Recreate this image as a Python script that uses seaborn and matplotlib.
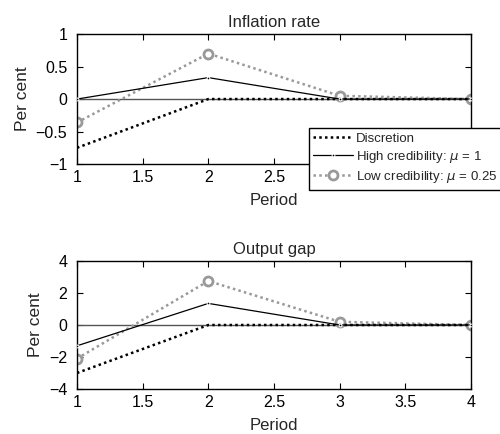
"""
Impulse responses of inflation and the output gap under discretion and
two credibility regimes, redrawn in the MATLAB look of the original.
"""

import matplotlib
matplotlib.use("Agg")
import matplotlib.pyplot as plt
import pandas as pd
import seaborn as sns

periods = [1, 2, 3, 4]

inflation_discretion = [-0.75, 0.0, 0.0, 0.0]
inflation_high = [0.0, 0.33, 0.0, 0.0]
inflation_low = [-0.36, 0.70, 0.05, 0.0]

output_discretion = [-3.0, 0.0, 0.0, 0.0]
output_high = [-1.3, 1.35, 0.0, 0.0]
output_low = [-2.1, 2.75, 0.2, 0.0]

labels = ["Discretion", r"High credibility: $\mu$ = 1", r"Low credibility: $\mu$ = 0.25"]
xtick_vals = [1, 1.5, 2, 2.5, 3, 3.5, 4]
xtick_text = ["1", "1.5", "2", "2.5", "3", "3.5", "4"]

sns.set_theme(style="ticks")
plt.rcParams["font.family"] = ["Liberation Sans", "DejaVu Sans"]
plt.rcParams["mathtext.fontset"] = "dejavusans"

fig = plt.figure(figsize=(5.0, 4.34), dpi=100)
ax_top = fig.add_axes([0.154, 0.622, 0.788, 0.2995])
ax_bot = fig.add_axes([0.154, 0.1037, 0.788, 0.2949])


def draw_panel(ax, disc, high, low, title, ylim, yticks, yticklabels, xlabels):
    df = pd.DataFrame({"Period": periods, "disc": disc, "high": high, "low": low})
    ax.axhline(0, color="#555555", lw=1.0, zorder=1)
    sns.lineplot(data=df, x="Period", y="disc", ax=ax, color="black",
                 lw=1.8, linestyle=(0, (1, 1.3)), label=labels[0], zorder=3)
    sns.lineplot(data=df, x="Period", y="high", ax=ax, color="black",
                 lw=0.9, marker="o", markersize=2, label=labels[1], zorder=4)
    sns.lineplot(data=df, x="Period", y="low", ax=ax, color="#999999",
                 lw=1.8, linestyle=(0, (1, 1.3)), marker="o", markersize=6.5,
                 markerfacecolor="white", markeredgecolor="#999999",
                 markeredgewidth=2, label=labels[2], zorder=2)
    ax.set_xlim(1, 4)
    ax.set_ylim(*ylim)
    ax.set_xticks(xtick_vals)
    ax.set_xticklabels(xlabels)
    ax.set_yticks(yticks)
    ax.set_yticklabels(yticklabels)
    ax.tick_params(direction="in", top=True, right=True, length=4, width=0.8,
                   labelsize=11.5, colors="black")
    ax.tick_params(axis="y", pad=7)
    ax.tick_params(axis="x", pad=4)
    for spine in ax.spines.values():
        spine.set_visible(True)
        spine.set_linewidth(1.0)
        spine.set_color("black")
    ax.set_title(title, fontsize=12, pad=5)
    ax.set_xlabel("Period", fontsize=12, labelpad=6)
    ax.set_ylabel("Per cent", fontsize=12.5, labelpad=4)


# the legend hides the last three period labels of the upper panel
draw_panel(ax_top, inflation_discretion, inflation_high, inflation_low,
           "Inflation rate", (-1, 1), [-1, -0.5, 0, 0.5, 1],
           ["\u22121", "\u22120.5", "0", "0.5", "1"],
           xtick_text[:4] + ["", "", ""])
draw_panel(ax_bot, output_discretion, output_high, output_low,
           "Output gap", (-4, 4), [-4, -2, 0, 2, 4],
           ["\u22124", "\u22122", "0", "2", "4"], xtick_text)

ax_bot.get_legend().remove()
leg = ax_top.legend(loc="upper left", bbox_to_anchor=(0.588, 0.28), fontsize=9.5,
                    frameon=True, fancybox=False, edgecolor="black",
                    framealpha=1, borderpad=0.35, labelspacing=0.32,
                    handlelength=3.0, handletextpad=0.25, borderaxespad=0)
leg.get_frame().set_linewidth(1.0)
leg.set_zorder(10)

fig.savefig("out.png", dpi=100)
